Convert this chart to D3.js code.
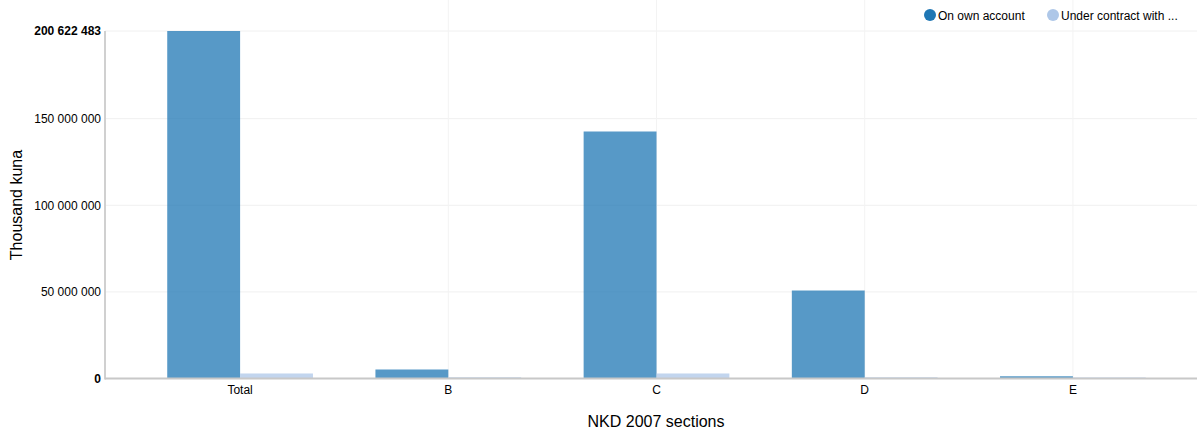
<!DOCTYPE html>
<html>
<head>
<meta charset="utf-8">
<script src="https://cdn.jsdelivr.net/npm/d3@7"></script>
<style>
  body { margin: 0; background: #fff; }
  svg { font-family: "Liberation Sans", Arial, sans-serif; }
</style>
</head>
<body>
<svg id="chart" width="1198" height="436"></svg>
<script>
const categories = ["Total", "B", "C", "D", "E"];
const seriesNames = ["On own account", "Under contract with ..."];
const ownAccount = [200622483, 5200000, 142600000, 50800000, 1300000];
const underContract = [2900000, 700000, 2900000, 700000, 600000];
const yTicks = [0, 50000000, 100000000, 150000000];
const yMax = 200622483;
const colors = ["#1f77b4", "#aec7e8"];

const svg = d3.select("#chart");
const plotLeft = 105, plotRight = 1197, plotTop = 31, plotBottom = 378.5;

const x = d3.scaleBand().domain(categories).range([136, 1177]).paddingInner(0.3).paddingOuter(0.15);
const xs = d3.scaleBand().domain(seriesNames).range([0, x.bandwidth()]);
const y = d3.scaleLinear().domain([0, yMax]).range([plotBottom, plotTop]);

const fmt = v => d3.format(",")(v).replace(/,/g, " ");

// horizontal grid
svg.append("g").selectAll("line").data(yTicks.concat([yMax])).join("line")
  .attr("x1", plotLeft).attr("x2", plotRight)
  .attr("y1", d => y(d)).attr("y2", d => y(d))
  .attr("stroke", "#f0f0f0").attr("stroke-width", 1);
// vertical grid at category centers
svg.append("g").selectAll("line").data(categories.slice(1)).join("line")
  .attr("x1", d => x(d) + x.bandwidth() / 2).attr("x2", d => x(d) + x.bandwidth() / 2)
  .attr("y1", 0).attr("y2", plotBottom)
  .attr("stroke", "#f3f3f3").attr("stroke-width", 1);

// bars
const data = categories.map((c, i) => ({ c, vals: [ownAccount[i], underContract[i]] }));
const g = svg.append("g").selectAll("g").data(data).join("g")
  .attr("transform", d => `translate(${x(d.c)},0)`);
g.selectAll("rect").data(d => d.vals.map((v, j) => ({ v, s: seriesNames[j], j }))).join("rect")
  .attr("x", d => xs(d.s)).attr("width", xs.bandwidth())
  .attr("y", d => y(d.v)).attr("height", d => plotBottom - y(d.v))
  .attr("fill", d => colors[d.j]).attr("fill-opacity", 0.75);

// axes lines
svg.append("line").attr("x1", plotLeft).attr("x2", plotLeft).attr("y1", plotTop).attr("y2", plotBottom + 1)
  .attr("stroke", "#d0d0d0").attr("stroke-width", 2);
svg.append("line").attr("x1", plotLeft).attr("x2", plotRight).attr("y1", plotBottom).attr("y2", plotBottom)
  .attr("stroke", "#c8c8c8").attr("stroke-width", 2);

// y axis
const yAxis = d3.axisLeft(y).tickValues(yTicks.concat([yMax])).tickSize(0).tickPadding(4).tickFormat(fmt);
const ya = svg.append("g").attr("transform", `translate(${plotLeft},0)`).call(yAxis);
ya.select(".domain").remove();
ya.selectAll("text").attr("font-size", 12).attr("fill", "#000")
  .attr("font-family", "'Liberation Sans', Arial, sans-serif")
  .attr("font-weight", d => (d === 0 || d === yMax) ? "bold" : "normal");

// x axis
const xAxis = d3.axisBottom(x).tickSize(0).tickPadding(7);
const xa = svg.append("g").attr("transform", `translate(0,${plotBottom})`).call(xAxis);
xa.select(".domain").remove();
xa.selectAll("text").attr("font-size", 12).attr("fill", "#000")
  .attr("font-family", "'Liberation Sans', Arial, sans-serif");

// axis titles
svg.append("text").attr("x", 656).attr("y", 427).attr("text-anchor", "middle")
  .attr("font-size", 16).attr("fill", "#000").text("NKD 2007 sections");
svg.append("text").attr("transform", "translate(22,205) rotate(-90)").attr("text-anchor", "middle")
  .attr("font-size", 16).attr("fill", "#000").text("Thousand kuna");

// legend
const legendX = [930, 1053];
const lg = svg.append("g").selectAll("g").data(seriesNames).join("g")
  .attr("transform", (d, i) => `translate(${legendX[i]},15)`);
lg.append("circle").attr("r", 6).attr("fill", (d, i) => colors[i]);
lg.append("text").attr("x", 8).attr("y", 4.5).attr("font-size", 12).attr("fill", "#000").text(d => d);
</script>
</body>
</html>
